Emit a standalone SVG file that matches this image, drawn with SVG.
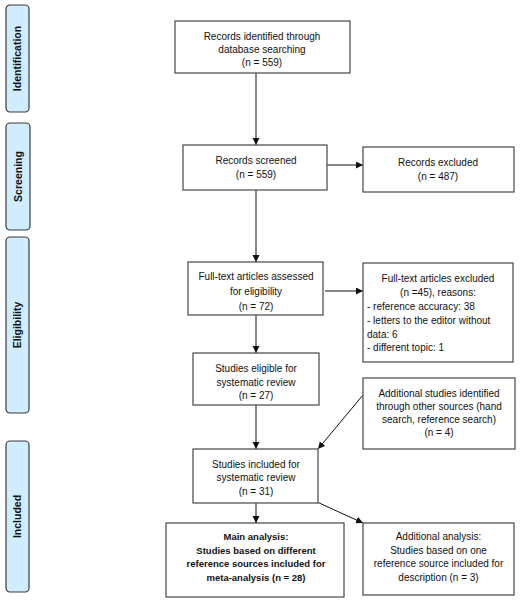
<svg xmlns="http://www.w3.org/2000/svg" width="520" height="600" viewBox="0 0 520 600">
<defs>
<style>
.lab rect{fill:#d0ecff;stroke:#3a3a3a;stroke-width:1.2}
.lab text{font-family:"Liberation Sans",Arial,sans-serif;font-size:10.5px;font-weight:bold;fill:#111;text-anchor:middle}
.node rect{fill:#fff;stroke:#555;stroke-width:1.3}
.node text{font-family:"Liberation Sans",Arial,sans-serif;font-size:10px;fill:#111;text-anchor:middle}
.node text.l{text-anchor:start}
.node text.b{font-weight:bold;font-size:9.5px}
#connectors line{stroke:#111;stroke-width:1;marker-end:url(#ah)}
</style>
<marker id="ah" markerUnits="userSpaceOnUse" markerWidth="8" markerHeight="8" refX="7" refY="3.5" orient="auto">
<path d="M0,0 L7,3.5 L0,7 z" fill="#111"/>
</marker>
</defs>
<rect width="520" height="600" fill="#fff"/>
<g id="label-identification" class="lab"><rect x="6" y="5" width="23" height="107" rx="4"/><text transform="translate(21,58.5) rotate(-90)">Identification</text></g>
<g id="label-screening" class="lab"><rect x="6" y="123" width="24" height="107" rx="4"/><text transform="translate(22,176.5) rotate(-90)">Screening</text></g>
<g id="label-eligibility" class="lab"><rect x="6" y="237" width="23" height="176" rx="4"/><text transform="translate(21,325) rotate(-90)">Eligibility</text></g>
<g id="label-included" class="lab"><rect x="6" y="441" width="23" height="151" rx="4"/><text transform="translate(21,516.5) rotate(-90)">Included</text></g>

<g id="connectors">
<line x1="256" y1="73" x2="256" y2="145"/>
<line x1="327" y1="165" x2="363" y2="165"/>
<line x1="256" y1="190" x2="256" y2="262"/>
<line x1="325" y1="291" x2="363" y2="291"/>
<line x1="256" y1="315" x2="256" y2="353"/>
<line x1="256" y1="405" x2="256" y2="449"/>
<line x1="363" y1="395" x2="318" y2="449"/>
<line x1="256" y1="503" x2="256" y2="523"/>
<line x1="317" y1="502" x2="363" y2="523"/>
</g>

<g id="n-identified" class="node"><rect x="175" y="21" width="175" height="52"/>
<text x="262" y="39.5">Records identified through</text><text x="262" y="52.5">database searching</text><text x="262" y="65.5">(n = 559)</text></g>
<g id="n-screened" class="node"><rect x="183" y="145" width="144" height="45"/>
<text x="256" y="163.5">Records screened</text><text x="256" y="177.5">(n = 559)</text></g>
<g id="n-excluded" class="node"><rect x="363" y="147" width="151" height="45"/>
<text x="438" y="165.5">Records excluded</text><text x="438" y="179.5">(n = 487)</text></g>
<g id="n-assessed" class="node"><rect x="188" y="262" width="135" height="53"/>
<text x="256" y="280">Full-text articles assessed</text><text x="256" y="295">for eligibility</text><text x="256" y="310">(n = 72)</text></g>
<g id="n-ft-excluded" class="node"><rect x="363" y="263" width="150" height="99"/>
<text x="438" y="282">Full-text articles excluded</text><text x="438" y="296">(n =45), reasons:</text>
<text class="l" x="367" y="310">- reference accuracy: 38</text><text class="l" x="367" y="324">- letters to the editor without</text><text class="l" x="367" y="337.5">data: 6</text><text class="l" x="367" y="351">- different topic: 1</text></g>
<g id="n-eligible" class="node"><rect x="193" y="353" width="126" height="52"/>
<text x="256" y="371.5">Studies eligible for</text><text x="256" y="385.5">systematic review</text><text x="256" y="398.5">(n = 27)</text></g>
<g id="n-additional" class="node"><rect x="363" y="378" width="152" height="71"/>
<text x="439" y="397">Additional studies identified</text><text x="439" y="410">through other sources (hand</text><text x="439" y="423">search, reference search)</text><text x="439" y="436">(n = 4)</text></g>
<g id="n-included" class="node"><rect x="193" y="449" width="125" height="54"/>
<text x="256" y="467.5">Studies included for</text><text x="256" y="480.5">systematic review</text><text x="256" y="495">(n = 31)</text></g>
<g id="n-main" class="node"><rect x="166" y="523" width="178" height="74"/>
<text class="b" x="256" y="540">Main analysis:</text><text class="b" x="256" y="554">Studies based on different</text><text class="b" x="256" y="567">reference sources included for</text><text class="b" x="256" y="581">meta-analysis (n = 28)</text></g>
<g id="n-addanalysis" class="node"><rect x="363" y="523" width="151" height="72"/>
<text x="438.5" y="540">Additional analysis:</text><text x="438.5" y="554">Studies based on one</text><text x="438.5" y="567">reference source included for</text><text x="438.5" y="581">description (n = 3)</text></g>
</svg>
